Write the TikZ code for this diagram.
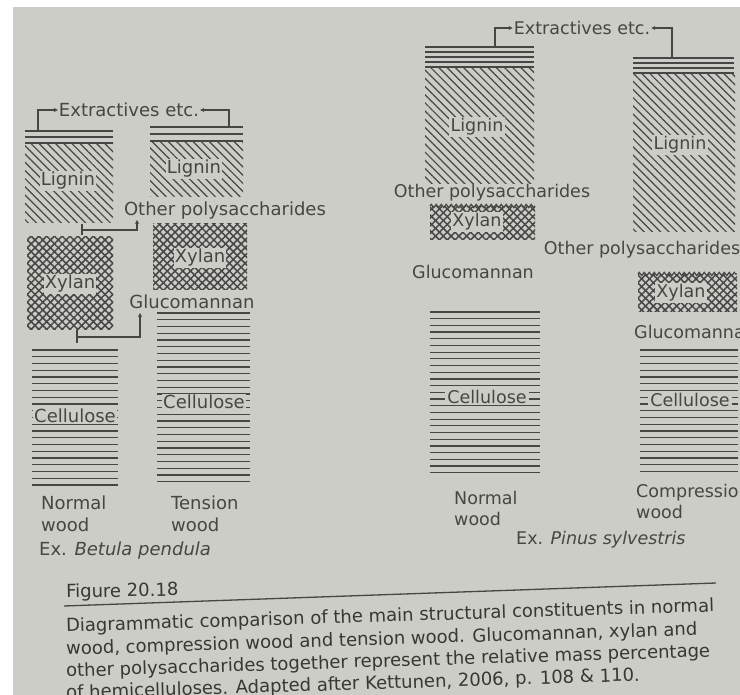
\documentclass[tikz,border=0pt]{standalone}
\usepackage{fontspec}
\setmainfont{DejaVu Sans}
\usetikzlibrary{patterns.meta,decorations.pathmorphing,arrows.meta}
\definecolor{page}{RGB}{204,205,198}
\definecolor{ink}{RGB}{70,70,68}
\definecolor{capink}{RGB}{55,55,53}
\tikzset{
  lab/.style={text=ink,font=\fontsize{18}{22}\selectfont,inner sep=1pt},
  labp/.style={text=ink,font=\fontsize{17.5}{21}\selectfont,inner sep=1pt},
  knock/.style={fill=page,inner sep=1.2pt},
  hatchL/.style={pattern={Lines[angle=-45,distance=5.8pt,line width=1.2pt]},pattern color=ink},
  hatchX/.style={pattern={Lines[angle=45,distance=5.5pt,line width=1.5pt]},pattern color=ink,
     postaction={pattern={Lines[angle=-45,distance=5.5pt,line width=1.5pt]},pattern color=ink}},
  celline/.style={draw=ink,line width=1.2pt},
  conn/.style={draw=ink,line width=1.2pt,-{Stealth[length=4pt,width=4pt]}},
  plainline/.style={draw=ink,line width=1.2pt},
  wavyline/.style={draw=ink,line width=1.2pt,decorate,decoration={zigzag,segment length=5pt,amplitude=1.6pt}},
  captxt/.style={text=capink,font=\fontsize{18}{22}\selectfont,inner sep=0pt,anchor=west}
}
\begin{document}
\begin{tikzpicture}[x=1pt,y=-1pt]
\useasboundingbox (0,0) rectangle (740,695);
\clip (0,0) rectangle (740,695);
\fill[white] (0,0) rectangle (740,695);
\fill[page] (13,7) rectangle (740,695);

% ================= Betula: normal wood =================
\foreach \y in {131,137} \draw[plainline] (25,\y) -- (113,\y);
\path[hatchL] (25,143) rectangle (113,223);
\draw[plainline] (25,143) -- (113,143);
\node[lab,knock] (lig1) at (68,181) {Lignin};
\path[hatchX] (27,237) rectangle (113,330);
\node[lab,knock] (xyl1) at (70,284) {Xylan};
\foreach \i in {0,...,20} \draw[celline] (32,{350+\i*6.75}) -- (118,{350+\i*6.75});
\node[lab,knock] (cel1) at (75,416) {Cellulose};
\node[lab,anchor=west,align=left] (nw1) at (40,514) {Normal\\wood};

% ================= Betula: tension wood =================
\foreach \y in {127,134} \draw[plainline] (150,\y) -- (243,\y);
\path[hatchL] (150,141) rectangle (243,197);
\draw[plainline] (150,141) -- (243,141);
\node[lab,knock] (lig2) at (194,169) {Lignin};
\path[hatchX] (153,224) rectangle (247,290);
\node[lab,knock] (xyl2) at (200,258) {Xylan};
\foreach \i in {0,...,25} \draw[celline] (157,{313+\i*6.75}) -- (250,{313+\i*6.75});
\node[lab,knock] (cel2) at (204,402) {Cellulose};
\node[lab,anchor=west,align=left] (tw1) at (170,514) {Tension\\wood};

\node[lab,anchor=west] (ex1) at (38,551) {Ex. \textit{Betula pendula}};

% Betula connectors
\node[lab] (ext1) at (129,110) {Extractives etc.};
\coordinate (e1a) at (38,131);
\coordinate (e1b) at (229,127);
\draw[conn] (e1a) |- (ext1.west);
\draw[conn] (e1b) |- (ext1.east);

\node[lab] (op1) at (225,211) {Other polysaccharides};
\coordinate (o1a) at (82,224);
\coordinate (o1b) at (82,235);
\coordinate (o1c) at (82,230);
\coordinate (o1d) at (137,220);
\draw[plainline] (o1a) -- (o1b);
\draw[conn] (o1c) -| (o1d);

\node[lab] (gm1) at (192,302) {Glucomannan};
\coordinate (g1a) at (77,330);
\coordinate (g1b) at (77,343);
\coordinate (g1c) at (77,337);
\coordinate (g1d) at (140,313);
\draw[plainline] (g1a) -- (g1b);
\draw[conn] (g1c) -| (g1d);

% ================= Pinus: normal wood =================
\foreach \y in {47,52,57,62,67} \draw[plainline] (425,\y) -- (534,\y);
\path[hatchL] (425,69) rectangle (534,184);
\node[labp,knock] (lig3) at (477,127) {Lignin};
\node[labp] (op3) at (492,193) {Other polysaccharides};
\path[hatchX] (430,207) rectangle (535,240);
\draw[wavyline] (430,206) -- (535,206);
\node[labp,knock] (xyl3) at (477,222) {Xylan};
\node[labp] (gm3) at (473,272) {Glucomannan};
\foreach \i in {0,...,24} \draw[celline] (430,{312+\i*6.7}) -- (540,{312+\i*6.7});
\node[labp,knock,inner xsep=2pt] (cel3) at (487,397) {Cellulose};
\node[labp,anchor=west,align=left] (nw3) at (453,508) {Normal\\wood};

% ================= Pinus: compression wood =================
\foreach \y in {58,63,68,73} \draw[plainline] (633,\y) -- (734,\y);
\path[hatchL] (633,75) rectangle (735,232);
\node[labp,knock] (lig4) at (680,145) {Lignin};
\node[labp] (op4) at (642,250) {Other polysaccharides};
\path[hatchX] (638,275) rectangle (737,312);
\draw[wavyline] (638,274) -- (737,274);
\node[labp,knock] (xyl4) at (681,293) {Xylan};
\node[labp,anchor=west] (gm4) at (633,332) {Glucomannan};
\foreach \i in {0,...,18} \draw[celline] (640,{350+\i*6.75}) -- (738,{350+\i*6.75});
\node[labp,knock,inner xsep=2pt] (cel4) at (690,400) {Cellulose};
\node[labp,anchor=west,align=left] (cw4) at (635,501) {Compression\\wood};

\node[labp,anchor=west] (ex3) at (515,540) {Ex. \textit{Pinus sylvestris}};

% Pinus connectors
\node[labp] (ext3) at (582,28) {Extractives etc.};
\coordinate (e3a) at (495,47);
\coordinate (e3b) at (672,58);
\draw[conn] (e3a) |- (ext3.west);
\draw[conn] (e3b) |- (ext3.east);

% ================= Caption =================
\node[captxt,rotate=1.2] (fig) at (66,593) {Figure 20.18};
\coordinate (r1) at (64,606);
\coordinate (r2) at (716,583);
\draw[draw=ink,line width=1.3pt] (r1) -- (r2);
\node[captxt,rotate=1.8] (c1) at (66,627) {Diagrammatic comparison of the main structural constituents in normal};
\node[captxt,rotate=1.8] (c2) at (66,650) {wood, compression wood and tension wood. Glucomannan, xylan and};
\node[captxt,rotate=1.8] (c3) at (66,672) {other polysaccharides together represent the relative mass percentage};
\node[captxt,rotate=1.8] (c4) at (66,694) {of hemicelluloses. Adapted after Kettunen, 2006, p. 108 \& 110.};
\end{tikzpicture}
\end{document}
